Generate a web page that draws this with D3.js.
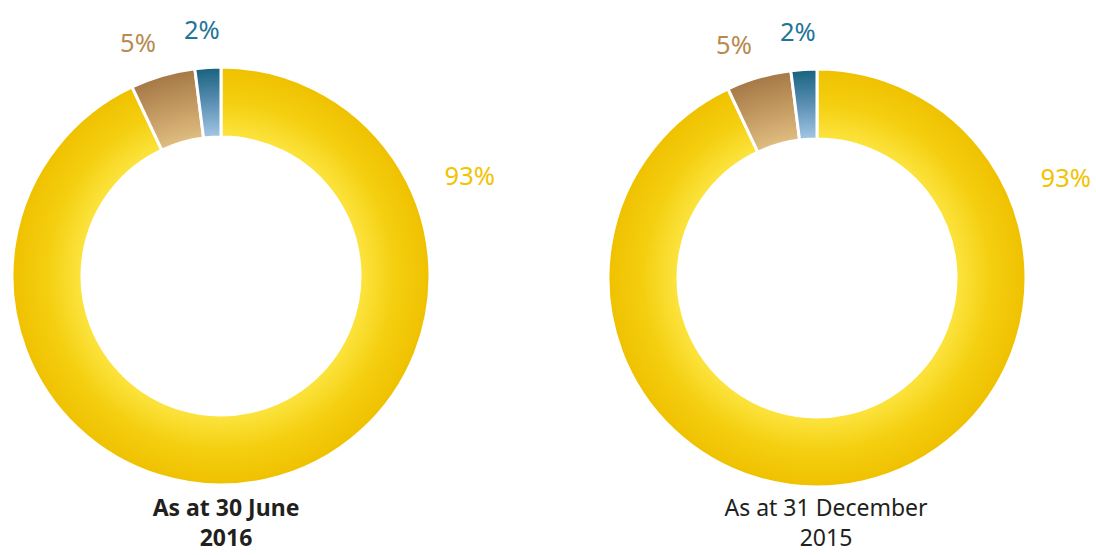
<!DOCTYPE html>
<html>
<head>
<meta charset="utf-8">
<script src="https://cdn.jsdelivr.net/npm/d3@7"></script>
<style>
  html, body { margin: 0; padding: 0; background: #fff; }
  svg { display: block; }
</style>
</head>
<body>
<svg id="chart" width="1096" height="555"></svg>
<script>
// ---- data ----
const categories = ["Gold", "Bronze", "Blue"];
const values2016 = [93, 5, 2];
const values2015 = [93, 5, 2];
const labels2016 = ["93%", "5%", "2%"];
const labels2015 = ["93%", "5%", "2%"];
const titles = [["As at 30 June", "2016"], ["As at 31 December", "2015"]];

// ---- styling ----
const colors = {
  Gold:   { outer: "#efc100", mid: "#f4cf10", inner: "#fce43f", text: "#f2c300" },
  Bronze: { outer: "#a57845", mid: "#c39a62", inner: "#e0bd80", text: "#b88950" },
  Blue:   { outer: "#17617f", mid: "#5b8fb3", inner: "#a3c7e4", text: "#1f7598" }
};

const svg = d3.select("#chart");
const font = "'Noto Sans', 'Open Sans', sans-serif";
const outerR = 209, innerR = 139;

const charts = [
  { cx: 221, cy: 276, values: values2016, labels: labels2016, title: titles[0], bold: true, tx: 226 },
  { cx: 817, cy: 278, values: values2015, labels: labels2015, title: titles[1], bold: false, tx: 826 }
];

const pie = d3.pie().sort(null).value(d => d);
const arc = d3.arc().innerRadius(innerR).outerRadius(outerR);
const defs = svg.append("defs");

charts.forEach((c, ci) => {
  const g = svg.append("g").attr("transform", `translate(${c.cx},${c.cy})`);
  const arcs = pie(c.values);

  categories.forEach(cat => {
    const gr = defs.append("radialGradient")
      .attr("id", `grad-${ci}-${cat}`)
      .attr("gradientUnits", "userSpaceOnUse")
      .attr("cx", 0).attr("cy", 0).attr("r", outerR);
    gr.append("stop").attr("offset", innerR / outerR).attr("stop-color", colors[cat].inner);
    gr.append("stop").attr("offset", (innerR + outerR) / 2 / outerR).attr("stop-color", colors[cat].mid);
    gr.append("stop").attr("offset", 1).attr("stop-color", colors[cat].outer);
  });

  g.selectAll("path.slice")
    .data(arcs)
    .join("path")
    .attr("class", "slice")
    .attr("d", arc)
    .attr("fill", (d, i) => `url(#grad-${ci}-${categories[i]})`)
    .attr("stroke", "#fff")
    .attr("stroke-width", 3)
    .attr("stroke-linejoin", "miter");

  // labels
  g.selectAll("text.pct")
    .data(arcs)
    .join("text")
    .attr("class", "pct")
    .attr("transform", (d, i) => {
      let a, r;
      if (i === 0) { a = d.startAngle + 1.19; r = 268; }
      else { a = (d.startAngle + d.endAngle) / 2 - (i === 1 ? 0.06 : 0.015); r = 247; }
      const x = Math.sin(a) * r, y = -Math.cos(a) * r;
      return `translate(${x},${y})`;
    })
    .attr("text-anchor", "middle")
    .attr("dy", "0.35em")
    .attr("font-family", font)
    .attr("font-size", 25.5)
    .attr("fill", (d, i) => colors[categories[i]].text)
    .text((d, i) => c.labels[i]);

  // title
  const t = svg.append("text")
    .attr("x", c.tx)
    .attr("text-anchor", "middle")
    .attr("font-family", font)
    .attr("font-size", 23)
    .attr("font-weight", c.bold ? "bold" : "normal")
    .attr("fill", "#231f20");
  t.append("tspan").attr("x", c.tx).attr("y", 516).text(c.title[0]);
  t.append("tspan").attr("x", c.tx).attr("y", 546).text(c.title[1]);
});
</script>
</body>
</html>
